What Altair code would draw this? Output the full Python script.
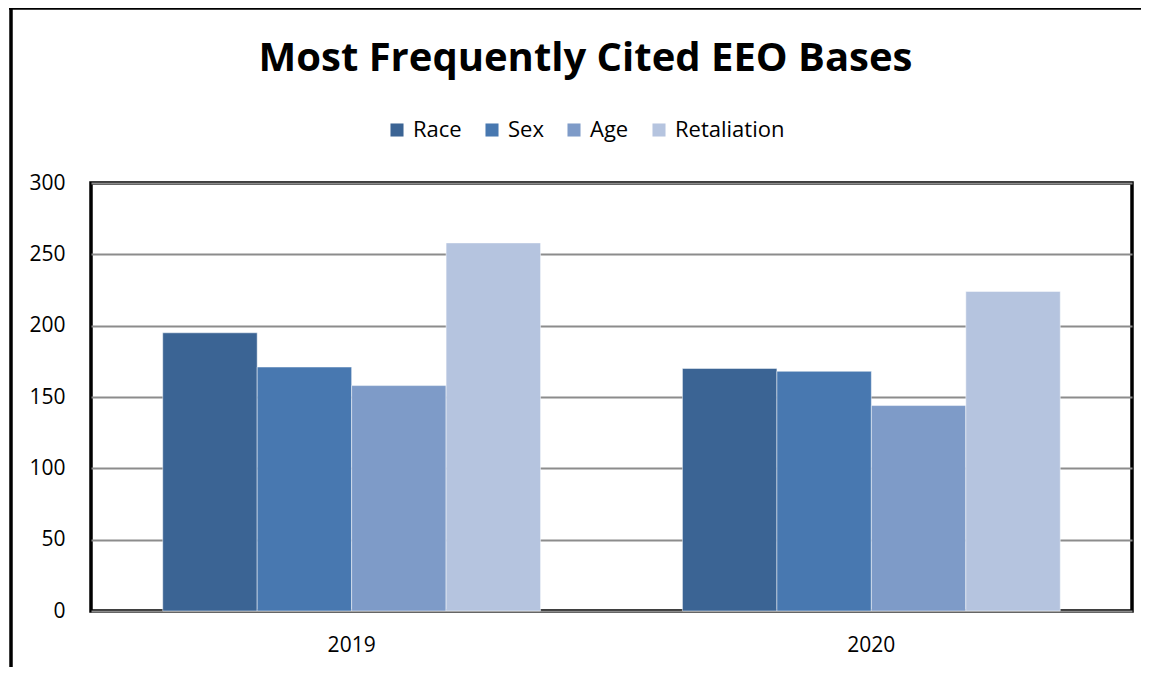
import altair as alt
import pandas as pd

years = ["2019", "2020"]
bases = ["Race", "Sex", "Age", "Retaliation"]
values_2019 = [195, 171, 158, 258]
values_2020 = [170, 168, 144, 224]
colors = ["#3B6494", "#4878B0", "#7E9BC8", "#B5C4DF"]

rows = []
for b, v in zip(bases, values_2019):
    rows.append({"Year": "2019", "Basis": b, "Count": v})
for b, v in zip(bases, values_2020):
    rows.append({"Year": "2020", "Basis": b, "Count": v})
df = pd.DataFrame(rows)

FONT = "Open Sans"

bars = alt.Chart(df).mark_bar(stroke="white", strokeWidth=0.8, strokeOpacity=0.6).encode(
    x=alt.X("Year:N", sort=years, title=None,
            scale=alt.Scale(paddingInner=0.273, paddingOuter=0.138),
            axis=alt.Axis(labelAngle=0, labelFontSize=21, labelFont=FONT, labelColor="black",
                          labelPadding=23, ticks=False, domain=False, grid=False)),
    xOffset=alt.XOffset("Basis:N", sort=bases, scale=alt.Scale(paddingInner=0, paddingOuter=0)),
    y=alt.Y("Count:Q", title=None,
            scale=alt.Scale(domain=[0, 300], nice=False),
            axis=alt.Axis(values=[0, 50, 100, 150, 200, 250, 300], labelFontSize=21, labelFont=FONT,
                          labelColor="black", labelPadding=26, ticks=False, domain=False,
                          grid=True, gridColor="#8c8c8c", gridWidth=2)),
    color=alt.Color("Basis:N", sort=bases,
                    scale=alt.Scale(domain=bases, range=colors),
                    legend=alt.Legend(title=None, orient="none", direction="horizontal",
                                      legendX=295, legendY=-64, symbolType="square", symbolSize=170,
                                      symbolStrokeWidth=0, labelFontSize=22, labelFont=FONT,
                                      labelColor="black", columnPadding=19, labelOffset=5)),
)

frame_src = pd.DataFrame({"a": [0]})
top_line = alt.Chart(frame_src).mark_rule(color="black", strokeWidth=3.5).encode(
    x=alt.value(-82), x2=alt.value(1050), y=alt.value(-175))
left_line = alt.Chart(frame_src).mark_rule(color="black", strokeWidth=3.5).encode(
    x=alt.value(-80), y=alt.value(-176), y2=alt.value(500))

chart = alt.layer(bars, top_line, left_line).properties(
    width=1041, height=428,
    background="white",
    title=alt.TitleParams("Most Frequently Cited EEO Bases", fontSize=40, font=FONT,
                          fontWeight="bold", color="black", anchor="middle", frame="group",
                          baseline="alphabetic", dx=-26, dy=106, offset=0),
    autosize=alt.AutoSizeParams(type="none"),
    padding={"left": 83, "top": 175, "right": 9, "bottom": 56},
).configure_view(stroke="black", strokeWidth=3.5)

chart.save("out.html", embed_options={"renderer": "svg", "actions": False})
